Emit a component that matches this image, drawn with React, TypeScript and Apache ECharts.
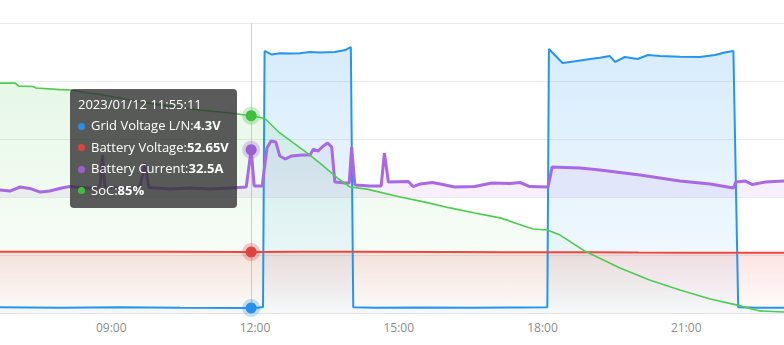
import React, { useEffect, useRef } from 'react';
import * as echarts from 'echarts';

// Day shown in the tooltip and the moment the tooltip is pinned to
const DAY = '2023/01/12';
const TIP_TIME = '11:55:11';

// Visible time window and the labelled hours on the time axis
const AXIS_START = '06:40:43';
const AXIS_END = '23:02:21';
const HOUR_LABELS = [9, 12, 15, 18, 21];

const SERIES_NAMES = ['Grid Voltage L/N', 'Battery Voltage', 'Battery Current', 'SoC'];
const SERIES_UNITS = ['V', 'V', 'A', '%'];

// Grid voltage, L/N (V)
const gridVoltage: [string, number][] = [
  ['06:40', 5.0], ['07:56', 4.6], ['09:11', 4.9], ['10:26', 4.5], [TIP_TIME, 4.3],
  ['12:04', 4.6], ['12:10', 5.2], ['12:12', 225.9], ['12:21', 222.8], ['12:31', 224.0],
  ['12:44', 223.7], ['12:56', 224.0], ['13:09', 225.0], ['13:21', 224.6], ['13:40', 225.0],
  ['13:53', 226.7], ['14:00', 229.3], ['14:03', 5.0], ['14:30', 4.6], ['15:30', 4.8],
  ['16:30', 4.5], ['17:30', 4.7], ['18:06', 4.9], ['18:08', 227.6], ['18:25', 215.5],
  ['18:41', 217.0], ['19:00', 219.0], ['19:12', 220.0], ['19:24', 221.6], ['19:31', 216.4],
  ['19:43', 220.7], ['19:59', 219.0], ['20:12', 222.4], ['20:27', 221.6], ['20:52', 221.0],
  ['21:17', 220.7], ['21:36', 222.4], ['21:48', 224.6], ['21:59', 225.9], ['22:05', 5.0],
  ['22:30', 4.5], ['23:03', 4.6],
];

// Battery voltage (V)
const batteryVoltage: [string, number][] = [
  ['06:40', 52.9], ['08:00', 52.8], ['10:00', 52.7], [TIP_TIME, 52.65], ['13:00', 52.9],
  ['14:00', 52.8], ['16:00', 52.6], ['18:00', 52.4], ['19:00', 52.3], ['20:00', 52.1],
  ['21:00', 52.0], ['22:05', 51.9], ['23:03', 51.9],
];

// Battery current (A)
const batteryCurrent: [string, number][] = [
  ['06:40', 4.8], ['06:53', 4.1], ['07:06', 6.9], ['07:18', 5.9], ['07:31', 3.4],
  ['07:43', 4.1], ['07:58', 6.2], ['08:08', 7.2], ['08:27', 6.2], ['08:40', 6.2],
  ['08:46', 7.6], ['08:49', 29.0], ['08:52', 6.9], ['09:11', 6.2], ['09:36', 6.9],
  ['09:42', 23.4], ['09:47', 6.6], ['10:14', 5.5], ['10:39', 6.2], ['11:04', 5.5],
  ['11:29', 6.2], ['11:49', 6.9], [TIP_TIME, 32.5], ['11:59', 7.6], ['12:09', 7.6],
  ['12:15', 33.8], ['12:20', 38.6], ['12:26', 38.0], ['12:31', 28.3], ['12:38', 26.2],
  ['12:46', 28.3], ['12:59', 29.0], ['13:09', 29.0], ['13:13', 33.0], ['13:19', 31.7],
  ['13:25', 35.0], ['13:31', 37.2], ['13:36', 34.5], ['13:40', 10.3], ['13:53', 9.7],
  ['13:58', 9.7], ['14:01', 34.5], ['14:05', 8.3], ['14:24', 7.6], ['14:38', 7.6],
  ['14:42', 30.3], ['14:47', 10.3], ['15:12', 10.7], ['15:18', 7.2], ['15:27', 9.0],
  ['15:42', 10.0], ['15:52', 9.0], ['16:10', 6.9], ['16:35', 7.2], ['16:57', 9.7],
  ['17:19', 9.3], ['17:32', 10.0], ['17:44', 7.2], ['18:07', 6.9], ['18:12', 20.7],
  ['18:47', 20.0], ['19:12', 18.6], ['20:02', 15.2], ['20:52', 11.0], ['21:30', 9.0],
  ['21:59', 6.2], ['22:02', 10.3], ['22:14', 11.0], ['22:23', 8.6], ['22:39', 10.3],
  ['23:03', 11.0],
];

// State of charge (%)
const stateOfCharge: [string, number][] = [
  ['06:40', 99.1], ['07:00', 99.1], ['07:04', 97.8], ['07:22', 97.6], ['07:26', 97.0],
  ['07:56', 96.3], ['08:08', 96.1], ['08:50', 94.0], ['09:24', 91.8], ['10:01', 89.7],
  ['10:51', 87.5], ['11:29', 86.2], [TIP_TIME, 85], ['12:04', 84.5], ['12:13', 83.6],
  ['12:31', 77.6], ['13:05', 69.0], ['13:21', 64.7], ['13:43', 58.2], ['13:59', 54.3],
  ['14:20', 53.4], ['15:02', 50.0], ['15:33', 47.8], ['16:04', 45.3], ['16:35', 43.1],
  ['17:07', 41.0], ['17:48', 36.2], ['18:06', 35.8], ['18:22', 33.6], ['18:53', 26.7],
  ['19:37', 19.4], ['20:14', 14.2], ['20:52', 9.9], ['21:30', 6.0], ['22:04', 3.4],
  ['22:32', 0.9], ['23:03', 0.4],
];

const COLORS = ['#2188dc', '#d7423a', '#9a5fd0', '#47b94a'];
const DOT_COLORS = ['#2b8ee8', '#e04343', '#9a5fd0', '#3fbf3f'];

const toHours = (t: string) => {
  const [h, m, s = '0'] = t.split(':');
  return Number(h) + Number(m) / 60 + Number(s) / 3600;
};

const pad = (n: number) => String(n).padStart(2, '0');

const hoursToClock = (h: number) => {
  const total = Math.round(h * 3600);
  return `${pad(Math.floor(total / 3600))}:${pad(Math.floor((total % 3600) / 60))}:${pad(total % 60)}`;
};

const toPoints = (rows: [string, number][]) => rows.map(([t, v]) => [toHours(t), v]);

const rgba = (hex: string, a: number) => {
  const n = parseInt(hex.slice(1), 16);
  return `rgba(${(n >> 16) & 255},${(n >> 8) & 255},${n & 255},${a})`;
};

const verticalFade = (hex: string, top: number, bottom: number) =>
  new echarts.graphic.LinearGradient(0, 0, 0, 1, [
    { offset: 0, color: rgba(hex, top) },
    { offset: 1, color: rgba(hex, bottom) },
  ]);

// Halo + dot on each line at the pinned tooltip moment, drawn above the pointer line
const tipMarkers = (rows: [string, number][], color: string) => {
  const hit = rows.find(([t]) => t === TIP_TIME)!;
  const coord = [toHours(hit[0]), hit[1]];
  return {
    silent: true,
    z: 100,
    symbol: 'circle',
    label: { show: false },
    data: [
      { coord, symbol: 'circle', symbolSize: 18, label: { show: false }, itemStyle: { color: rgba(color, 0.28) } },
      { coord, symbol: 'circle', symbolSize: 11, label: { show: false }, itemStyle: { color } },
    ],
  };
};

export default function App() {
  const ref = useRef<HTMLDivElement>(null);

  useEffect(() => {
    if (!ref.current) return;
    document.body.style.margin = '0';
    const chart = echarts.init(ref.current, undefined, { renderer: 'svg' });
    const font = '"Open Sans", "Noto Sans", sans-serif';

    const option: any = {
      animation: false,
      textStyle: { fontFamily: font },
      grid: { left: 0, right: 0, top: 23, bottom: 32, containLabel: false },
      tooltip: {
        trigger: 'axis',
        triggerOn: 'none',
        alwaysShowContent: true,
        transitionDuration: 0,
        position: [70, 89],
        backgroundColor: 'rgba(50,50,50,0.8)',
        borderWidth: 0,
        padding: [4, 8, 7, 8],
        extraCssText: 'box-shadow:none;border-radius:4px;',
        textStyle: { color: '#fff', fontSize: 13, fontFamily: font },
        axisPointer: {
          type: 'line',
          animation: false,
          z: 1,
          lineStyle: { color: '#d2d2d2', width: 1, type: 'solid' },
        },
        formatter: (params: any[]) => {
          const head = `<div style="line-height:22px">${DAY} ${hoursToClock(params[0].value[0])}</div>`;
          const rows = params
            .map(
              (p) =>
                `<div style="line-height:21.5px;white-space:nowrap"><span style="display:inline-block;width:7px;height:7px;border-radius:50%;background:${DOT_COLORS[p.seriesIndex]};margin:0 6px 1px 0;vertical-align:middle"></span>${SERIES_NAMES[p.seriesIndex]}:<b>${p.value[1]}${SERIES_UNITS[p.seriesIndex]}</b></div>`
            )
            .join('');
          return head + rows;
        },
      },
      xAxis: {
        type: 'value',
        min: toHours(AXIS_START),
        max: toHours(AXIS_END),
        axisLine: { lineStyle: { color: '#e3e3e3' } },
        axisTick: { show: false },
        splitLine: { show: false },
        axisLabel: {
          color: '#8c8c8c',
          fontSize: 12,
          margin: 8,
          customValues: HOUR_LABELS,
          formatter: (v: number) => `${pad(Math.round(v))}:00`,
        },
      },
      yAxis: [
        {
          type: 'value', min: 0, max: 250, interval: 50,
          axisLabel: { show: false }, axisLine: { show: false }, axisTick: { show: false },
          splitLine: { lineStyle: { color: '#ebebeb' } },
        },
        {
          type: 'value', min: -80, max: 120, interval: 40,
          axisLabel: { show: false }, axisLine: { show: false }, axisTick: { show: false },
          splitLine: { show: false },
        },
        {
          type: 'value', min: 0, max: 125, interval: 25,
          axisLabel: { show: false }, axisLine: { show: false }, axisTick: { show: false },
          splitLine: { show: false },
        },
      ],
      series: [
        {
          name: SERIES_NAMES[0],
          type: 'line',
          yAxisIndex: 0,
          symbol: 'none',
          data: toPoints(gridVoltage),
          lineStyle: { color: COLORS[0], width: 2 },
          itemStyle: { color: COLORS[0] },
          areaStyle: { color: verticalFade(COLORS[0], 0.26, 0.05) },
          markPoint: tipMarkers(gridVoltage, DOT_COLORS[0]),
        },
        {
          name: SERIES_NAMES[1],
          type: 'line',
          yAxisIndex: 0,
          symbol: 'none',
          data: toPoints(batteryVoltage),
          lineStyle: { color: COLORS[1], width: 2 },
          itemStyle: { color: COLORS[1] },
          areaStyle: { color: verticalFade(COLORS[1], 0.22, 0.02) },
          markPoint: tipMarkers(batteryVoltage, DOT_COLORS[1]),
        },
        {
          name: SERIES_NAMES[2],
          type: 'line',
          yAxisIndex: 1,
          symbol: 'none',
          data: toPoints(batteryCurrent),
          lineStyle: { color: COLORS[2], width: 3 },
          itemStyle: { color: COLORS[2] },
          areaStyle: { color: rgba(COLORS[2], 0.14) },
          markPoint: tipMarkers(batteryCurrent, DOT_COLORS[2]),
        },
        {
          name: SERIES_NAMES[3],
          type: 'line',
          yAxisIndex: 2,
          symbol: 'none',
          data: toPoints(stateOfCharge),
          lineStyle: { color: COLORS[3], width: 1.6 },
          itemStyle: { color: COLORS[3] },
          areaStyle: { color: verticalFade(COLORS[3], 0.2, 0.02) },
          markPoint: tipMarkers(stateOfCharge, DOT_COLORS[3]),
        },
      ],
    };

    chart.setOption(option);
    const tipIndex = gridVoltage.findIndex(([t]) => t === TIP_TIME);
    chart.dispatchAction({ type: 'showTip', seriesIndex: 0, dataIndex: tipIndex });

    return () => chart.dispose();
  }, []);

  return <div ref={ref} style={{ width: 784, height: 345 }} />;
}
